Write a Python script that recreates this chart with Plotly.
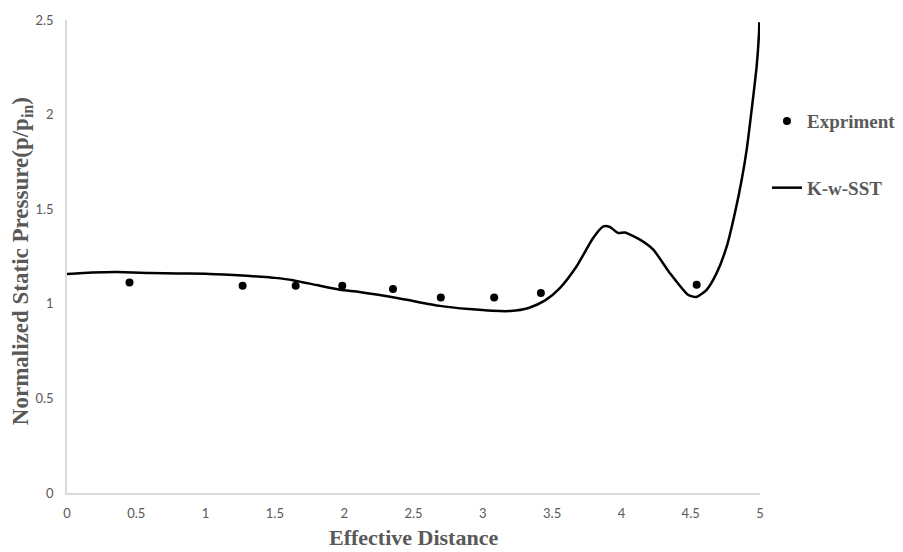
import plotly.graph_objects as go

# Experimental data
exp_x = [0.451, 1.267, 1.650, 1.986, 2.352, 2.697, 3.082, 3.419, 4.543]
exp_y = [1.113, 1.095, 1.095, 1.095, 1.078, 1.033, 1.033, 1.057, 1.101]

# K-w-SST simulation curve
sst_x = [0.0, 0.18, 0.36, 0.6, 0.8, 1.0, 1.2, 1.4, 1.5, 1.63, 1.8, 1.97, 2.11,
         2.4, 2.69, 2.9, 3.07, 3.2, 3.33, 3.45, 3.556, 3.676, 3.796, 3.87,
         3.917, 3.977, 4.025, 4.134, 4.23, 4.35, 4.48, 4.54, 4.615, 4.687, 4.76,
         4.819, 4.868, 4.904, 4.94, 4.976, 4.993, 4.995]
sst_y = [1.157, 1.165, 1.168, 1.163, 1.160, 1.159, 1.152, 1.143, 1.137, 1.125,
         1.099, 1.074, 1.062, 1.028, 0.989, 0.972, 0.963, 0.962, 0.978, 1.018,
         1.083, 1.197, 1.348, 1.409, 1.406, 1.374, 1.377, 1.339, 1.286, 1.162,
         1.048, 1.036, 1.074, 1.162, 1.303, 1.480, 1.656, 1.815, 2.026, 2.256,
         2.432, 2.488]

x_ticks = [0, 0.5, 1, 1.5, 2, 2.5, 3, 3.5, 4, 4.5, 5]
y_ticks = [0, 0.5, 1, 1.5, 2, 2.5]

gray = "#595959"
serif = "Liberation Serif"

fig = go.Figure()
fig.add_trace(go.Scatter(
    x=exp_x, y=exp_y, mode="markers", name="Expriment", legendgroup="a",
    marker=dict(color="black", size=8, symbol="circle"),
))
fig.add_trace(go.Scatter(
    x=sst_x, y=sst_y, mode="lines", name="K-w-SST", legendgroup="b",
    line=dict(color="black", width=2.5, shape="spline", smoothing=0.6),
))

fig.update_layout(
    width=895, height=544,
    margin=dict(l=59, r=143, t=12, b=59, autoexpand=False),
    plot_bgcolor="white", paper_bgcolor="white",
    showlegend=True,
    legend=dict(
        xref="container", yref="container",
        x=0.848, xanchor="left", y=0.827, yanchor="top",
        font=dict(family=serif, size=19, color=gray, weight="bold"),
        itemwidth=30, tracegroupgap=39, bgcolor="rgba(0,0,0,0)",
    ),
    xaxis=dict(
        range=[0, 5], tickvals=x_ticks, showgrid=False, zeroline=False,
        showline=True, linecolor="#d9d9d9", linewidth=1.5, automargin=False,
        tickfont=dict(family="Lato", size=13, color=gray),
        ticklabelstandoff=8,
    ),
    yaxis=dict(
        range=[0, 2.5], tickvals=y_ticks, showgrid=False, zeroline=False,
        showline=True, linecolor="#d9d9d9", linewidth=1.5, automargin=False,
        tickfont=dict(family="Lato", size=13, color=gray),
        ticklabelstandoff=9,
    ),
    annotations=[
        dict(text="Normalized Static Pressure(p/p<sub>in</sub>)",
             xref="paper", yref="paper", x=-0.065, y=0.49,
             xanchor="center", yanchor="middle", textangle=-90, showarrow=False,
             font=dict(family=serif, size=23, color=gray, weight="bold")),
        dict(text="Effective Distance",
             xref="paper", yref="paper", x=0.5, y=-0.095,
             xanchor="center", yanchor="middle", showarrow=False,
             font=dict(family=serif, size=22, color=gray, weight="bold")),
    ],
)

fig.write_html("out.html")
